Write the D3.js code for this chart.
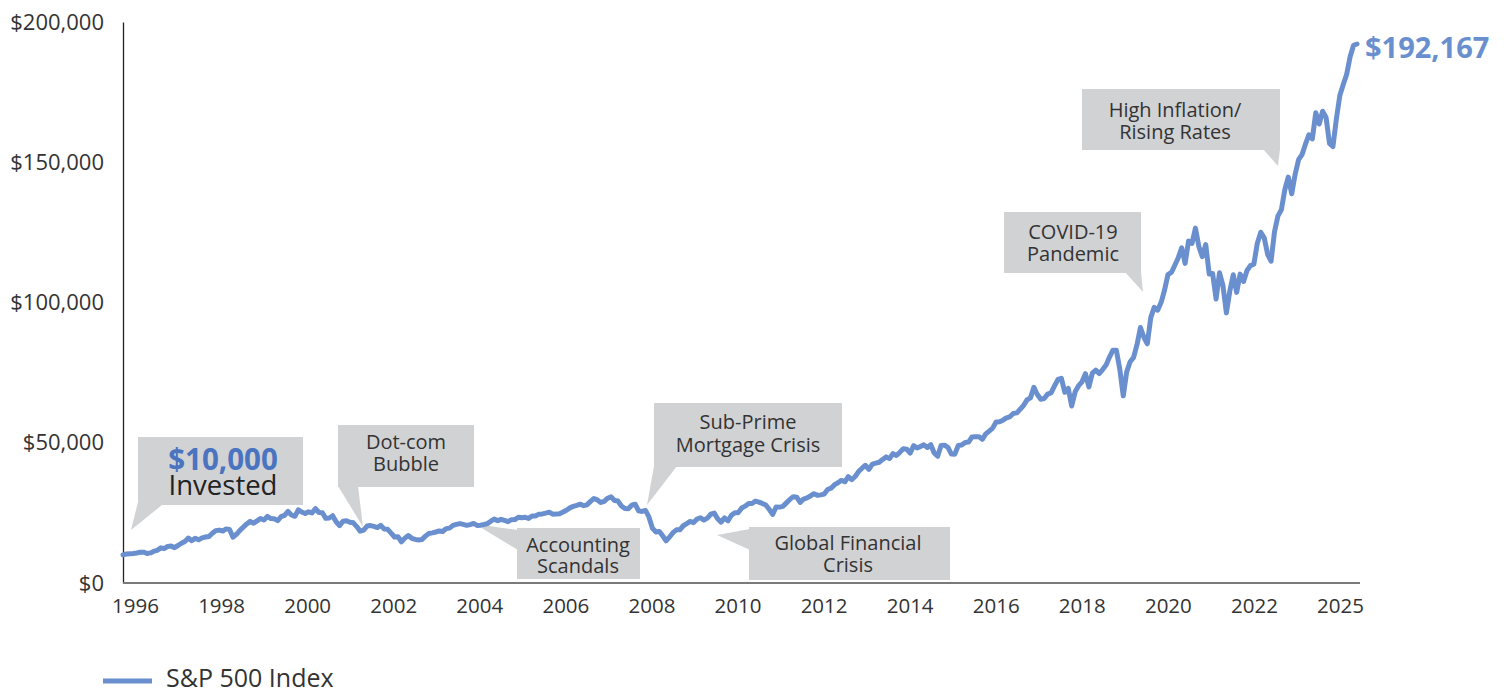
<!DOCTYPE html>
<html>
<head>
<meta charset="utf-8">
<script src="https://cdn.jsdelivr.net/npm/d3@7"></script>
<style>
  html, body { margin: 0; padding: 0; background: #ffffff; }
  svg { display: block; font-family: "Open Sans", "Noto Sans", sans-serif; }
</style>
</head>
<body>
<svg id="chart" width="1504" height="689"></svg>
<script>
// ---------------- DATA ----------------
const seriesName = "S&P 500 Index";
const startMonth = "1995-12";          // first point = $10,000 invested
const endLabel = "$192,167";
// Month-end growth of $10,000 (Dec 1995 .. Nov 2025)
const values = [
  10000,
  10340, 10436, 10537, 10692, 10957, 10999, 10513, 10734, 11337, 11650, 12530, 12282,
  13054, 13157, 12614, 13369, 14180, 14816, 15994, 15097, 15924, 15392, 16105, 16382,
  16574, 17762, 18672, 18860, 18536, 19290, 19084, 16325, 17371, 18783, 19920, 21067,
  21965, 21297, 22161, 23017, 22480, 23728, 22987, 22873, 22245, 23653, 24134, 25519,
  24240, 23780, 26090, 25300, 24780, 25390, 24990, 26540, 25140, 25030, 23060, 23170,
  23990, 21830, 20450, 22040, 22190, 21660, 21450, 20110, 18490, 18840, 20290, 20470,
  20170, 19780, 20520, 19280, 19140, 17780, 16390, 16500, 14700, 16000, 16940, 15950,
  15550, 15310, 15480, 16760, 17650, 17870, 18190, 18550, 18350, 19390, 19560, 20530,
  20900, 21190, 20880, 20550, 20830, 21240, 20540, 20620, 20850, 21170, 22030, 22780,
  22230, 22700, 22300, 21880, 22580, 22610, 23450, 23240, 23430, 23040, 23910, 23920,
  24550, 24620, 24930, 25260, 24530, 24560, 24710, 25300, 25950, 26800, 27310, 27690,
  28110, 27560, 27870, 29100, 30120, 29620, 28700, 29130, 30220, 30700, 29420, 29210,
  27450, 26560, 26440, 27730, 28090, 25720, 25500, 25870, 23560, 19600, 18200, 18390,
  16840, 15050, 16370, 17940, 18940, 18980, 20410, 21150, 21940, 21530, 22820, 23260,
  22420, 23110, 24510, 24900, 22910, 21710, 23230, 22180, 24160, 25080, 25080, 26760,
  27400, 28340, 28350, 29190, 28860, 28380, 27800, 26290, 24440, 27110, 27050, 27330,
  28560, 29800, 30780, 30590, 28750, 29930, 30350, 31030, 31830, 31240, 31420, 31700,
  33340, 33800, 35060, 35740, 36570, 36080, 37920, 36820, 37970, 39720, 40930, 41970,
  40520, 42370, 42730, 43040, 44050, 44960, 44340, 46120, 45470, 46580, 47830, 47710,
  46280, 48940, 48170, 48630, 49250, 48300, 49310, 46340, 45190, 49000, 49150, 48380,
  45980, 45920, 49030, 49220, 50110, 50240, 52090, 52170, 52180, 51230, 53130, 54180,
  55210, 57400, 57470, 58060, 58880, 59250, 60460, 60650, 61900, 63350, 65290, 66000,
  69780, 67210, 65500, 65750, 67340, 67750, 70270, 72560, 72970, 67980, 69370, 63100,
  68160, 70350, 71720, 74620, 69880, 74800, 75880, 74680, 76080, 77730, 80550, 82980,
  82950, 76120, 66720, 75270, 78860, 80420, 84960, 91070, 87610, 85280, 94610, 98250,
  97250, 99980, 104360, 109930, 110700, 113280, 115980, 119500, 113940, 121930, 121080, 126520,
  119930, 116340, 120660, 110140, 110340, 101240, 110580, 106060, 96300, 104090, 109910, 103600,
  110110, 107480, 111420, 113160, 113650, 121160, 125050, 123060, 117190, 114730, 125210, 130890,
  133090, 140190, 144700, 138790, 145670, 150900, 152730, 156430, 159770, 158320, 167650, 163640,
  168200, 166000, 156700, 155600, 165400, 173800, 177700, 181400, 187600, 191700, 192167
];
const xTickLabels = ["1996","1998","2000","2002","2004","2006","2008","2010","2012","2014","2016","2018","2020","2022","2025"];
const yTickValues = [0, 50000, 100000, 150000, 200000];

// Event call-outs
const calloutLines = [
  ["Dot-com", "Bubble"],
  ["Accounting", "Scandals"],
  ["Sub-Prime", "Mortgage Crisis"],
  ["Global Financial", "Crisis"],
  ["COVID-19", "Pandemic"],
  ["High Inflation/", "Rising Rates"]
];
const startCallout = ["$10,000", "Invested"];

// ---------------- LAYOUT ----------------
const lineColor = "#6A8FCF";
const boxColor = "#D1D2D4";
const textColor = "#333333";

const svg = d3.select("#chart");
const parse = d3.timeParse("%Y-%m");
const dates = values.map((v, i) => d3.timeMonth.offset(parse(startMonth), i));
const data = values.map((v, i) => ({ date: dates[i], i, value: v }));

const x = d3.scaleLinear().domain([0, values.length - 1]).range([123, 1357]);
const y = d3.scaleLinear().domain([0, 200000]).range([583, 22]);
const xLab = d3.scalePoint().domain(xTickLabels).range([x(0) + 12, x(values.length - 1) - 17]);

// Y axis
const yAxis = svg.append("g")
  .attr("transform", `translate(${x(0)},0)`)
  .call(d3.axisLeft(y).tickValues(yTickValues).tickSize(0).tickPadding(19)
    .tickFormat(d => "$" + d3.format(",")(d)));
yAxis.select(".domain").attr("stroke", "#222").attr("stroke-width", 1.3);
yAxis.selectAll("text").attr("font-size", 22).attr("fill", textColor)
  .attr("font-family", "'Open Sans', sans-serif");

// X axis
svg.append("line")
  .attr("x1", x(0)).attr("x2", x(values.length - 1) + 3)
  .attr("y1", y(0)).attr("y2", y(0))
  .attr("stroke", "#7a7a7a").attr("stroke-width", 2);
const xAxis = svg.append("g")
  .attr("transform", `translate(0,${y(0)})`)
  .call(d3.axisBottom(xLab).tickSize(0).tickPadding(15));
xAxis.select(".domain").remove();
xAxis.selectAll("text").attr("font-size", 20.5).attr("fill", textColor)
  .attr("font-family", "'Open Sans', sans-serif");

// Call-out boxes (drawn under the line)
const callouts = svg.append("g");
function callout(bx, by, bw, bh, tail, lines, cx, baselines, size) {
  callouts.append("polygon").attr("points", tail.map(p => p.join(",")).join(" ")).attr("fill", boxColor);
  callouts.append("rect").attr("x", bx).attr("y", by).attr("width", bw).attr("height", bh).attr("fill", boxColor);
  lines.forEach((t, k) => {
    callouts.append("text").attr("x", cx).attr("y", baselines[k])
      .attr("text-anchor", "middle").attr("font-size", size).attr("fill", textColor).text(t);
  });
}
// $10,000 Invested
callouts.append("polygon").attr("points", "131,530 139,498 162,505").attr("fill", boxColor);
callouts.append("rect").attr("x", 138).attr("y", 437).attr("width", 165).attr("height", 68).attr("fill", boxColor);
callouts.append("text").attr("x", 223).attr("y", 470).attr("text-anchor", "middle")
  .attr("font-size", 29.5).attr("font-weight", 700).attr("fill", "#4A74C0").text(startCallout[0]);
callouts.append("text").attr("x", 223).attr("y", 495).attr("text-anchor", "middle")
  .attr("font-size", 27.5).attr("fill", "#222").text(startCallout[1]);

callout(338, 425, 136, 62, [[338,486],[358,486],[363,527]], calloutLines[0], 406, [449, 471], 20);
callout(517, 528, 123, 51, [[475,524],[518,530],[518,550]], calloutLines[1], 578, [552, 573], 20);
callout(654, 403, 188, 64, [[654,466],[677,466],[647,505]], calloutLines[2], 748, [429, 452], 20);
callout(749, 527, 201, 53, [[717,535],[750,529],[750,550]], calloutLines[3], 848, [550, 572], 20);
callout(1004, 212, 137, 61, [[1125,272],[1141,272],[1143,292]], calloutLines[4], 1073, [239, 261], 20);
callout(1082, 89, 198, 61, [[1263,149],[1280,149],[1278,166]], calloutLines[5], 1175, [117, 139], 20);

// Series line
svg.append("path")
  .datum(data)
  .attr("fill", "none")
  .attr("stroke", lineColor)
  .attr("stroke-width", 5)
  .attr("stroke-linejoin", "round")
  .attr("stroke-linecap", "round")
  .attr("d", d3.line().x(d => x(d.i)).y(d => y(d.value)));

// End value label
const last = data[data.length - 1];
svg.append("text").attr("x", x(last.i) + 8).attr("y", y(last.value) + 14)
  .attr("font-size", 29).attr("font-weight", 700).attr("fill", lineColor).text(endLabel);

// Legend
svg.append("line").attr("x1", 103).attr("x2", 152).attr("y1", 681).attr("y2", 681)
  .attr("stroke", lineColor).attr("stroke-width", 5);
svg.append("text").attr("x", 166).attr("y", 687).attr("font-size", 25).attr("fill", textColor).text(seriesName);
</script>
</body>
</html>
